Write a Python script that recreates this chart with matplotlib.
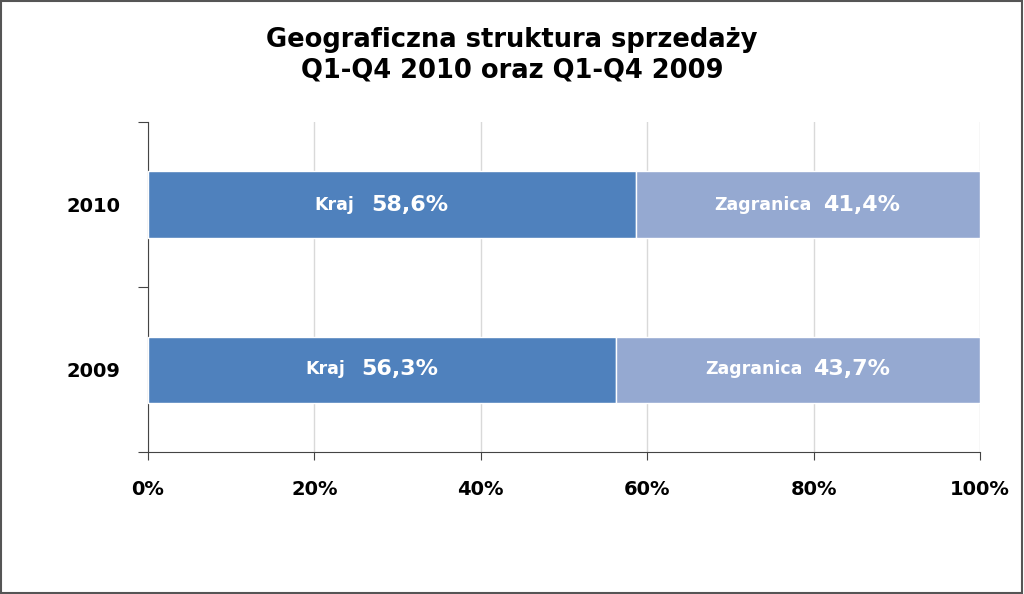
import matplotlib.pyplot as plt
import numpy as np

years = ["2009", "2010"]
kraj = [56.3, 58.6]
zagranica = [43.7, 41.4]
xticks = [0, 20, 40, 60, 80, 100]

plt.rcParams['font.family'] = 'DejaVu Sans'
plt.rcParams['font.weight'] = 'bold'

fig = plt.figure(figsize=(10.24, 5.94), dpi=100)
fig.patches.append(plt.Rectangle((0.001, 0.002), 0.997, 0.996, transform=fig.transFigure,
                                 fill=False, edgecolor='#555555', linewidth=1.5))
ax = fig.add_axes([148/1024, 1-452/594, 832/1024, 330/594])

y = np.arange(len(years))
ax.barh(y, kraj, height=0.4, color='#4F81BD', edgecolor='white', linewidth=1, zorder=3)
ax.barh(y, zagranica, left=kraj, height=0.4, color='#95A9D1', edgecolor='white', linewidth=1, zorder=3)

for i in range(len(years)):
    c = kraj[i] / 2
    ax.text(c - 4.5, y[i], "Kraj", ha='right', va='center', color='white', fontsize=12.5, fontweight='bold', zorder=4)
    ax.text(c - 2.5, y[i], f"{kraj[i]:.1f}%".replace('.', ','), ha='left', va='center',
            color='white', fontsize=16, fontweight='bold', zorder=4)
    c2 = kraj[i] + zagranica[i] / 2
    ax.text(c2 + 0.5, y[i], "Zagranica", ha='right', va='center', color='white', fontsize=12.5, fontweight='bold', zorder=4)
    ax.text(c2 + 1.8, y[i], f"{zagranica[i]:.1f}%".replace('.', ','), ha='left', va='center',
            color='white', fontsize=16, fontweight='bold', zorder=4)

ax.set_xlim(0, 100)
ax.set_ylim(-0.5, 1.5)
ax.set_xticks(xticks)
ax.set_xticklabels([f"{v}%" for v in xticks], fontsize=14, fontweight='bold')
ax.set_yticks([-0.5, 0.5, 1.5])
ax.set_yticklabels([])
ax.set_yticks(y, minor=True)
ax.set_yticklabels(years, minor=True, fontsize=14, fontweight='bold')
ax.tick_params(axis='y', which='minor', length=0, pad=20)
ax.tick_params(axis='y', which='major', length=7, direction='out', color='#444444')
ax.tick_params(axis='x', length=6, direction='out', color='#444444', pad=14)
ax.grid(axis='x', color='#D9D9D9', linewidth=1, zorder=0)
for s in ['top', 'right']:
    ax.spines[s].set_visible(False)
ax.spines['left'].set_color('#444444')
ax.spines['bottom'].set_color('#444444')

fig.suptitle("Geograficzna struktura sprzedaży\nQ1-Q4 2010 oraz Q1-Q4 2009", y=0.955,
             fontsize=18.5, fontweight='bold', linespacing=1.25)

fig.savefig("out.png", dpi=100)
